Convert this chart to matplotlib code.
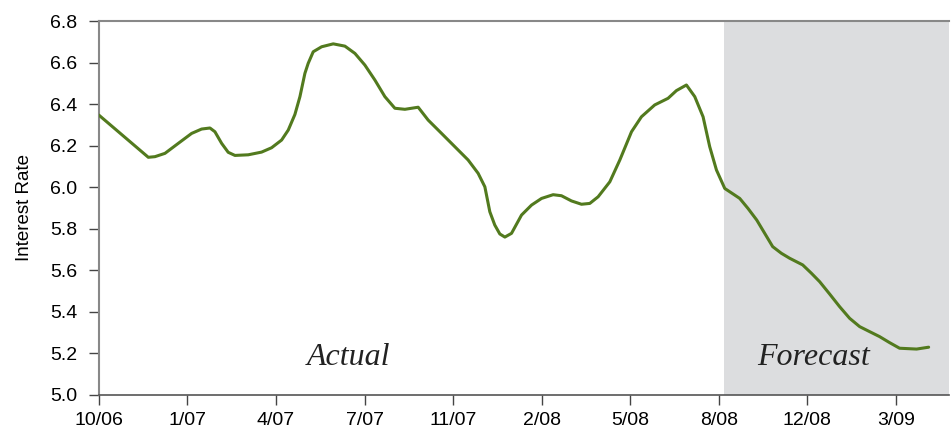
import matplotlib
matplotlib.use("Agg")
import matplotlib.pyplot as plt

# Tick positions (evenly spaced) and labels
tick_labels = ["10/06", "1/07", "4/07", "7/07", "11/07", "2/08", "5/08", "8/08", "12/08", "3/09"]
tick_pos = list(range(len(tick_labels)))

# Series, x in tick-index units
x_vals = [0.000, 0.558, 0.633, 0.746, 0.896, 1.047, 1.160, 1.254, 1.310, 1.386,
          1.460, 1.536, 1.686, 1.837, 1.950, 2.063, 2.138, 2.213, 2.270, 2.326,
          2.363, 2.420, 2.515, 2.646, 2.778, 2.891, 3.003, 3.116, 3.229, 3.342,
          3.455, 3.605, 3.718, 3.869, 4.019, 4.169, 4.282, 4.358, 4.388, 4.414,
          4.470, 4.527, 4.584, 4.659, 4.772, 4.885, 4.998, 5.129, 5.223, 5.336,
          5.449, 5.543, 5.637, 5.769, 5.882, 6.014, 6.126, 6.276, 6.427, 6.521,
          6.634, 6.728, 6.822, 6.897, 6.973, 7.067, 7.180, 7.236, 7.329, 7.428,
          7.518, 7.608, 7.706, 7.800, 7.947, 8.045, 8.139, 8.251, 8.364, 8.477,
          8.590, 8.702, 8.815, 8.928, 9.041, 9.233, 9.369]
rate = [6.347, 6.144, 6.147, 6.163, 6.211, 6.259, 6.280, 6.285, 6.267, 6.211,
        6.168, 6.153, 6.156, 6.169, 6.190, 6.227, 6.275, 6.350, 6.436, 6.548,
        6.596, 6.652, 6.676, 6.690, 6.679, 6.644, 6.588, 6.516, 6.436, 6.380,
        6.375, 6.385, 6.323, 6.259, 6.195, 6.131, 6.067, 6.002, 5.938, 5.882,
        5.818, 5.775, 5.760, 5.778, 5.866, 5.914, 5.946, 5.964, 5.959, 5.934,
        5.918, 5.922, 5.954, 6.026, 6.131, 6.267, 6.339, 6.396, 6.428, 6.465,
        6.492, 6.436, 6.339, 6.195, 6.083, 5.994, 5.962, 5.946, 5.898, 5.842,
        5.778, 5.714, 5.682, 5.658, 5.626, 5.586, 5.545, 5.486, 5.425, 5.369,
        5.329, 5.305, 5.281, 5.252, 5.225, 5.221, 5.230]

forecast_start = 7.06
x_max = 9.6
y_ticks = [5.0, 5.2, 5.4, 5.6, 5.8, 6.0, 6.2, 6.4, 6.6, 6.8]

plt.rcParams['font.family'] = ['Liberation Sans', 'DejaVu Sans']

fig = plt.figure(figsize=(9.51, 4.33), dpi=100)
ax = fig.add_axes([0.104, 0.0878, 0.894, 0.8637])

ax.axvspan(forecast_start, x_max, color='#dcdddf', lw=0, zorder=0)
ax.plot(x_vals, rate, color='#527a1e', lw=2.2, solid_joinstyle='round',
        solid_capstyle='round', zorder=3)

ax.set_xlim(0, x_max)
ax.set_ylim(5.0, 6.8)
ax.set_xticks(tick_pos)
ax.set_xticklabels(tick_labels, fontsize=14)
ax.set_yticks(y_ticks)
ax.set_yticklabels([f"{v:.1f}" for v in y_ticks], fontsize=14)
ax.tick_params(axis='both', direction='out', length=7.5, width=1, color='#444444')
ax.tick_params(axis='x', pad=5)
ax.tick_params(axis='y', pad=8)
ax.set_ylabel("Interest Rate", fontsize=13.5, labelpad=12)

ax.spines['left'].set_color('#888888')
ax.spines['left'].set_linewidth(1.5)
ax.spines['bottom'].set_color('#555555')
ax.spines['bottom'].set_linewidth(1.2)
ax.spines['top'].set_color('#888888')
ax.spines['top'].set_linewidth(1.5)
ax.spines['right'].set_visible(False)

ax.text(2.82, 5.144, "Actual", fontsize=23, style='italic', family='Liberation Serif',
        ha='center', va='baseline', color='#222222')
ax.text(8.07, 5.144, "Forecast", fontsize=23, style='italic', family='Liberation Serif',
        ha='center', va='baseline', color='#222222')

fig.savefig("out.png", dpi=100)
